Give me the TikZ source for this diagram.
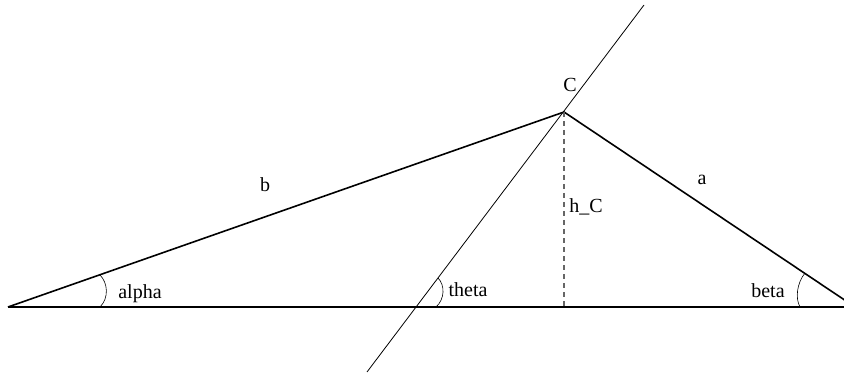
\documentclass[tikz,border=0pt]{standalone}
\usepackage{fontspec}
\setmainfont{Liberation Serif}
\usetikzlibrary{calc}

\begin{document}
\begin{tikzpicture}[x=1pt, y=-1pt, font=\fontsize{20}{24}\selectfont,
  side/.style={line width=1.6pt},
  thin line/.style={line width=0.8pt},
  angle arc/.style={line width=0.6pt},
  height line/.style={line width=1.3pt, black!60, dash pattern=on 5pt off 4pt}]

\clip (0,0) rectangle (844,377);

% Points
\coordinate (A) at (8,307);
\coordinate (B) at (855,307);
\coordinate (C) at (564,112);
\coordinate (H) at (C |- A);
\coordinate (Lbot) at (367,372);
\coordinate (Ltop) at (644,5);

% Triangle
\draw[side] (A) -- (B);
\draw[side] (A) -- (C) -- (B);

% Height
\draw[height line] (C) -- (H);

% Line through C
\draw[thin line] (Lbot) -- (Ltop);

% Angle arcs
\draw[angle arc] (100,307) .. controls (109,298) and (108,283) .. (100,275);
\draw[angle arc] (436,307) .. controls (445,299) and (445,285) .. (438,278);
\draw[angle arc] (800,307) .. controls (795,298) and (797,283) .. (805,273);

% Labels
\node[anchor=base] (labC) at (570,92) {C};
\node[anchor=base] (labb) at (265,192) {b};
\node[anchor=base] (laba) at (702,185) {a};
\node[anchor=base] (labh) at (586,213) {h\_C};
\node[anchor=base] (labalpha) at (140,298) {alpha};
\node[anchor=base] (labtheta) at (468,296) {theta};
\node[anchor=base] (labbeta) at (768,297) {beta};

\end{tikzpicture}
\end{document}
